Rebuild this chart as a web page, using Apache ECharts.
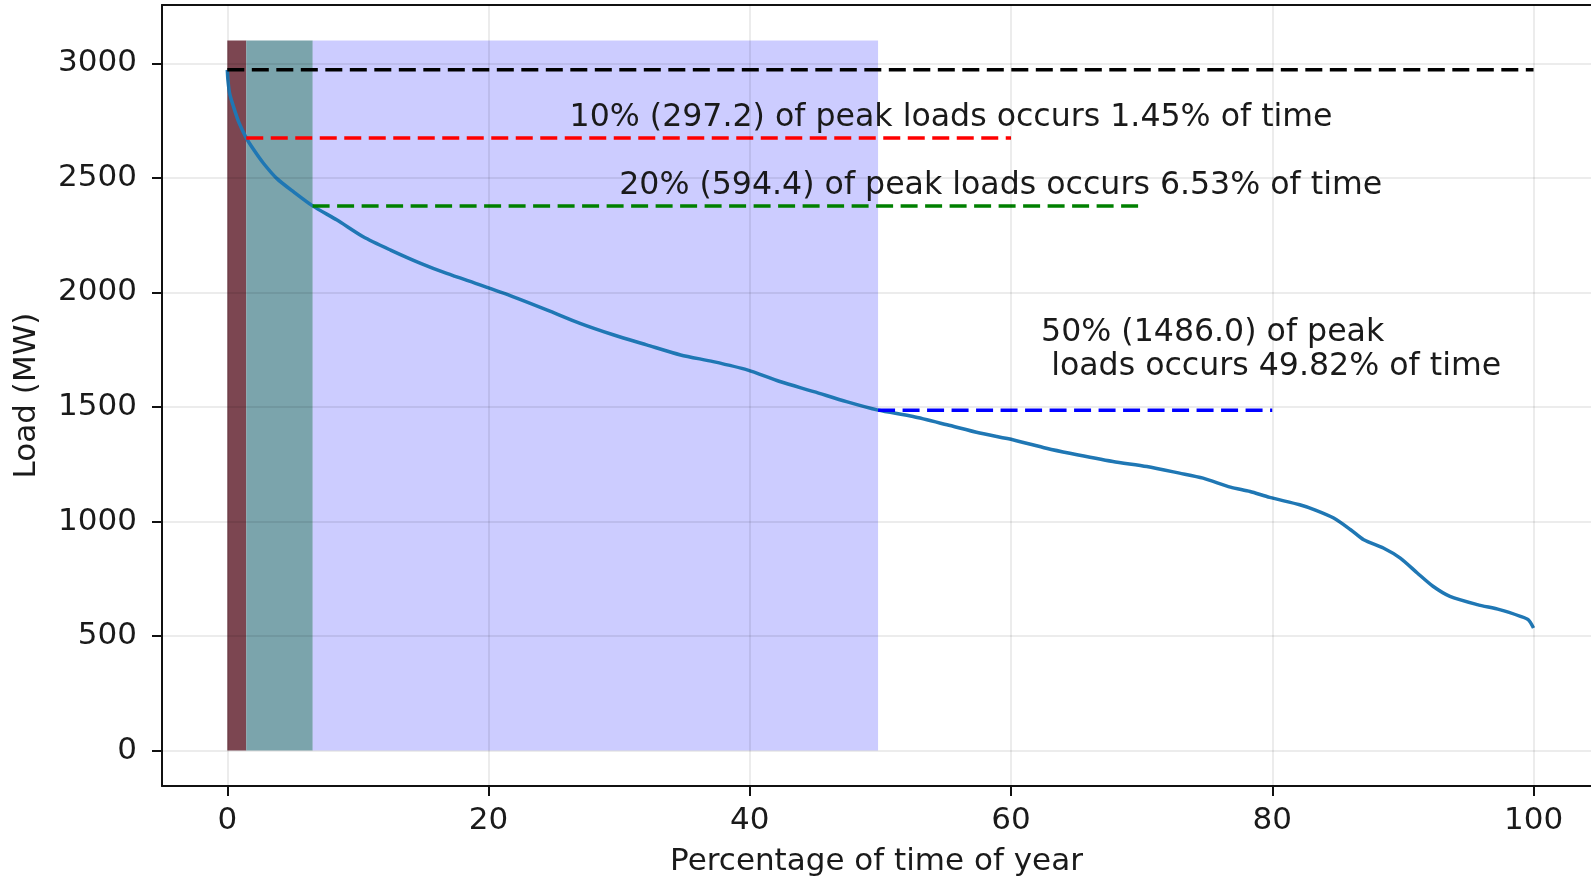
<!DOCTYPE html>
<html>
<head>
<meta charset="utf-8">
<title>Load duration curve</title>
<script src="https://cdn.jsdelivr.net/npm/echarts/dist/echarts.min.js"></script>
<style>
  html, body { margin: 0; padding: 0; background: #fff; }
  #chart { width: 1591px; height: 880px; }
</style>
</head>
<body>
<div id="chart"></div>
<script>
  // load duration curve (x = % of year, y = MW)
  const pctTime = [0, 0.05, 0.18, 0.48, 0.9, 1.45, 2.0, 2.78, 3.8, 5.08, 6.53, 8.4, 10.4, 12.5, 14.8, 16.8,
    19.4, 21.9, 24.5, 27.0, 29.6, 32.1, 34.7, 37.2, 39.8, 42.3, 44.9, 47.4, 49.82, 52.5, 55.1, 57.6, 60.2,
    62.7, 64.5, 67.8, 70.4, 72.9, 74.7, 76.8, 78.3, 79.8, 82.1, 83.3, 84.7, 86.0, 87.0, 88.5, 89.8, 91.1,
    92.3, 93.6, 95.7, 97.4, 99.0, 99.6, 100];
  const loadMW = [2972, 2926, 2868, 2810, 2740, 2675, 2625, 2563, 2497, 2439, 2378, 2316, 2243, 2185, 2127, 2083,
    2032, 1981, 1923, 1865, 1814, 1771, 1727, 1698, 1662, 1611, 1567, 1523, 1486, 1458, 1422, 1386, 1356,
    1320, 1298, 1262, 1240, 1211, 1189, 1150, 1131, 1105, 1073, 1050, 1015, 964, 920, 884, 840, 775,
    717, 673, 637, 615, 586, 571, 535];

  // reference lines: peak and 10/20/50 % below peak
  const refNames = ['peak', '10%', '20%', '50%'];
  const refLoad = [2972, 2674.8, 2377.6, 1486.0];
  const refStart = [0, 1.45, 6.53, 49.82];
  const refEnd = [100, 60, 70, 80];
  const refColors = ['#000000', '#ff0000', '#008000', '#0000ff'];

  // shaded spans along the time axis
  const spanFrom = [0, 1.45, 6.53];
  const spanTo = [1.45, 6.53, 49.82];
  const spanTop = 3100;
  const spanColors = ['rgba(110,50,62,0.9)', 'rgba(100,148,158,0.85)', 'rgba(0,0,255,0.2)'];

  // annotation texts
  const noteText = [
    '10% (297.2) of peak loads occurs 1.45% of time',
    '20% (594.4) of peak loads occurs 6.53% of time',
    '50% (1486.0) of peak\n loads occurs 49.82% of time'
  ];
  const noteX = [26.2, 30.0, 62.3];
  const noteY = [2762, 2465, 1748];

  const xTicks = [0, 20, 40, 60, 80, 100];
  const yTicks = [0, 500, 1000, 1500, 2000, 2500, 3000];

  const font = 'DejaVu Sans';
  const textColor = '#1a1a1a';
  const fs = 31;

  let myChart = echarts.init(document.getElementById('chart'));

  const gridLines = [];
  xTicks.forEach(v => gridLines.push({ xAxis: v }));
  yTicks.forEach(v => gridLines.push({ yAxis: v }));

  const series = [
    {
      // grid lines (drawn as marklines so they sit on the tick values)
      name: 'grid',
      type: 'line',
      data: [],
      z: 1,
      silent: true,
      markLine: {
        silent: true,
        symbol: ['none', 'none'],
        label: { show: false },
        lineStyle: { color: 'rgba(0,0,0,0.1)', width: 1.5, type: 'solid' },
        data: gridLines
      }
    },
    {
      name: 'spans',
      type: 'line',
      data: [],
      z: 2,
      silent: true,
      markArea: {
        silent: true,
        data: spanFrom.map((f, i) => [
          { xAxis: f, yAxis: 0, itemStyle: { color: spanColors[i] } },
          { xAxis: spanTo[i], yAxis: spanTop }
        ])
      }
    },
    {
      name: 'load',
      type: 'line',
      z: 3,
      showSymbol: false,
      smooth: 0.25,
      lineStyle: { color: '#1f77b4', width: 3.5, join: 'round' },
      data: pctTime.map((t, i) => [t, loadMW[i]])
    }
  ];

  refNames.forEach((n, i) => {
    series.push({
      name: n,
      type: 'line',
      z: 4,
      showSymbol: false,
      lineStyle: { color: refColors[i], width: 3.5, type: [17, 7.5] },
      data: [[refStart[i], refLoad[i]], [refEnd[i], refLoad[i]]]
    });
  });

  series.push({
    name: 'notes',
    type: 'scatter',
    z: 5,
    silent: true,
    symbolSize: 0,
    itemStyle: { opacity: 1 },
    label: {
      show: true,
      position: 'right',
      distance: 0,
      formatter: '{b}',
      color: textColor,
      opacity: 1,
      fontFamily: font,
      fontSize: 31.6,
      lineHeight: 34
    },
    data: noteText.map((t, i) => ({ name: t, value: [noteX[i], noteY[i]] }))
  });

  const spine = { show: true, onZero: false, lineStyle: { color: '#111', width: 2 } };

  myChart.setOption({
    animation: false,
    backgroundColor: '#fff',
    textStyle: { fontFamily: font },
    grid: { left: 162, top: 5, bottom: 94, right: 0, outerBoundsMode: 'none', containLabel: false },
    xAxis: [
      {
        type: 'value',
        min: -5, max: 104.4,
        name: 'Percentage of time of year',
        nameLocation: 'middle',
        nameGap: 60,
        nameTextStyle: { color: textColor, fontSize: fs, fontFamily: font },
        axisLine: spine,
        axisTick: { show: true, length: 10, lineStyle: { color: '#111', width: 2 }, customValues: xTicks },
        axisLabel: { color: textColor, fontSize: fs, fontFamily: font, margin: 19, customValues: xTicks },
        splitLine: { show: false }
      },
      {
        // top spine only
        type: 'value',
        position: 'top',
        min: -5, max: 104.4,
        axisLine: spine,
        axisTick: { show: false },
        axisLabel: { show: false },
        splitLine: { show: false }
      }
    ],
    yAxis: {
      type: 'value',
      min: -155, max: 3255,
      name: 'Load (MW)',
      nameLocation: 'middle',
      nameGap: 120,
      nameTextStyle: { color: textColor, fontSize: fs, fontFamily: font },
      axisLine: spine,
      axisTick: { show: true, length: 10, lineStyle: { color: '#111', width: 2 }, customValues: yTicks },
      axisLabel: {
        color: textColor, fontSize: fs, fontFamily: font, margin: 25,
        customValues: yTicks, formatter: v => String(v)
      },
      splitLine: { show: false }
    },
    series: series
  });
</script>
</body>
</html>
